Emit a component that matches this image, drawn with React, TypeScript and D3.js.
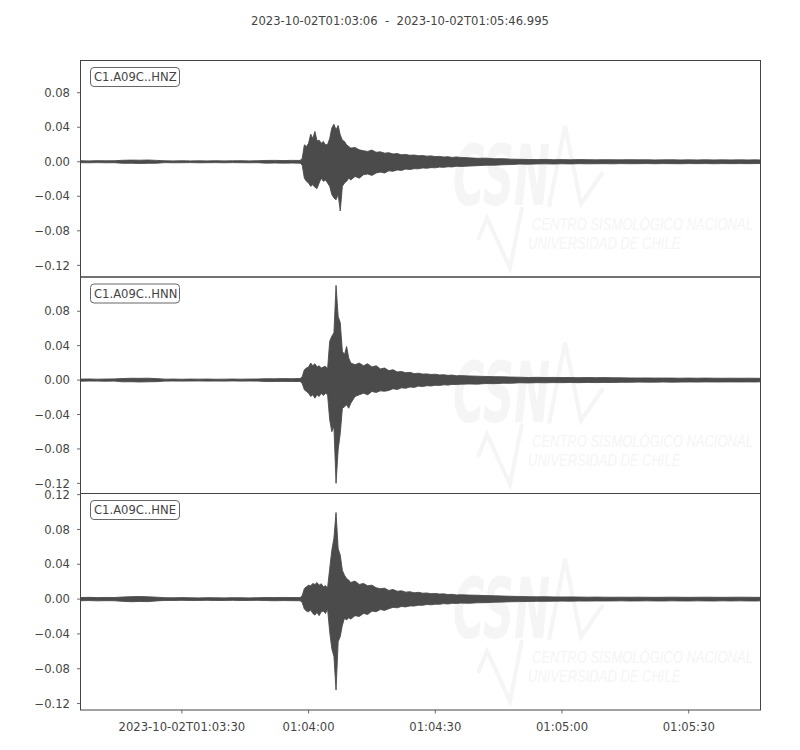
import React from "react";
import * as d3 from "d3";

// ---------- DATA (seconds after 2023-10-02T01:03:06, amplitude envelope per time bin) ----------
const START_LABEL = "2023-10-02T01:03:06";
const END_LABEL = "2023-10-02T01:05:46.995";
const DURATION_S = 160.995;

const TIME_S = [
  0, 2, 4, 6, 8, 10, 12, 14, 16, 18, 20, 22, 24, 26, 28, 30, 32, 34, 36, 38, 40, 42, 44, 46, 48, 50, 52,
  52.5, 53, 53.5, 54, 54.5, 55, 55.5, 56, 56.5, 57, 57.5, 58, 58.5, 59, 59.5, 60, 60.5, 61, 61.5, 62, 62.5, 63, 63.5, 64,
  65, 66, 67, 68, 69, 70, 71, 72, 73, 74, 75, 76, 77, 78, 79, 80, 81, 82, 83, 84, 85, 86, 87, 88, 89, 90,
  92, 94, 96, 98, 100, 102, 104, 106, 108, 110, 112, 114, 116, 118, 120, 122, 124, 126, 128, 130,
  132, 134, 136, 138, 140, 142, 144, 146, 148, 150, 152, 154, 156, 158, 160, 160.995,
];

const HNZ_MAX = [
  0.0012, 0.001, 0.0013, 0.0011, 0.0012, 0.0017, 0.0019, 0.0018, 0.002, 0.0016, 0.0011, 0.001, 0.0012, 0.001, 0.0011, 0.001, 0.0012, 0.001, 0.0011, 0.0012, 0.001, 0.0012, 0.0015, 0.0016, 0.0014, 0.0016, 0.0015,
  0.004, 0.0196, 0.0177, 0.0215, 0.032, 0.027, 0.035, 0.024, 0.025, 0.0215, 0.0235, 0.0196, 0.02, 0.027, 0.039, 0.0435, 0.037, 0.042, 0.031, 0.025, 0.0235, 0.0196, 0.0177, 0.0158,
  0.0165, 0.0138, 0.0127, 0.012, 0.0135, 0.011, 0.0115, 0.01, 0.0105, 0.009, 0.0095, 0.008, 0.0085, 0.0075, 0.0078, 0.007, 0.0072, 0.0065, 0.0068, 0.006, 0.0062, 0.0055, 0.0058, 0.005, 0.0056, 0.005,
  0.0045, 0.004, 0.0042, 0.0035, 0.0035, 0.003, 0.0028, 0.0026, 0.0025, 0.0027, 0.0024, 0.0025, 0.0023, 0.0025, 0.0024, 0.0022, 0.0024, 0.0023, 0.0022, 0.0024,
  0.0022, 0.0023, 0.0021, 0.0022, 0.0023, 0.0021, 0.0022, 0.0021, 0.0023, 0.0021, 0.0022, 0.0021, 0.0022, 0.0021, 0.0022, 0.002,
];
const HNZ_MIN = [
  -0.0011, -0.0012, -0.001, -0.0012, -0.0011, -0.0018, -0.0017, -0.002, -0.0018, -0.0017, -0.001, -0.0012, -0.0011, -0.001, -0.0012, -0.0011, -0.001, -0.0012, -0.001, -0.0011, -0.0012, -0.0011, -0.0016, -0.0014, -0.0016, -0.0015, -0.0016,
  -0.004, -0.019, -0.0227, -0.0246, -0.0285, -0.0265, -0.0296, -0.031, -0.0246, -0.019, -0.0227, -0.021, -0.0246, -0.0285, -0.038, -0.042, -0.044, -0.038, -0.057, -0.0285, -0.0246, -0.0227, -0.019, -0.021,
  -0.017, -0.019, -0.015, -0.0142, -0.0158, -0.013, -0.012, -0.013, -0.0105, -0.011, -0.0095, -0.01, -0.0085, -0.009, -0.008, -0.0082, -0.0072, -0.0075, -0.0068, -0.007, -0.0062, -0.0065, -0.0058, -0.006, -0.0052, -0.0055,
  -0.005, -0.0045, -0.004, -0.004, -0.0035, -0.0032, -0.0027, -0.0028, -0.0025, -0.0024, -0.0026, -0.0023, -0.0025, -0.0022, -0.0024, -0.0023, -0.0022, -0.0024, -0.0021, -0.0023,
  -0.0022, -0.0021, -0.0023, -0.0021, -0.0022, -0.0023, -0.0021, -0.0022, -0.0021, -0.0023, -0.0021, -0.0022, -0.0021, -0.0022, -0.0021, -0.002,
];

const HNN_MAX = [
  0.0012, 0.0013, 0.0011, 0.0012, 0.0014, 0.0018, 0.0021, 0.002, 0.0022, 0.0017, 0.0011, 0.0012, 0.001, 0.0012, 0.0011, 0.0012, 0.001, 0.0011, 0.0012, 0.0011, 0.0012, 0.0013, 0.0016, 0.0015, 0.0017, 0.0016, 0.0018,
  0.004, 0.012, 0.014, 0.0152, 0.0198, 0.0167, 0.019, 0.0152, 0.0167, 0.014, 0.0152, 0.016, 0.0128, 0.045, 0.051, 0.055, 0.11, 0.074, 0.0665, 0.0334, 0.0295, 0.039, 0.0257, 0.0198,
  0.0179, 0.0198, 0.0167, 0.019, 0.0152, 0.0167, 0.013, 0.014, 0.011, 0.012, 0.0095, 0.01, 0.0085, 0.009, 0.0075, 0.008, 0.007, 0.0072, 0.0065, 0.0068, 0.006, 0.0062, 0.0055, 0.0058, 0.005, 0.0052,
  0.0048, 0.0045, 0.0042, 0.004, 0.0038, 0.0035, 0.0033, 0.003, 0.0032, 0.003, 0.0031, 0.0029, 0.003, 0.0028, 0.003, 0.0028, 0.0029, 0.0027, 0.0026, 0.0025,
  0.0024, 0.0025, 0.0023, 0.0024, 0.0023, 0.0022, 0.0023, 0.0022, 0.0023, 0.0022, 0.0021, 0.0022, 0.0021, 0.0022, 0.0021, 0.002,
];
const HNN_MIN = [
  -0.0013, -0.0011, -0.0012, -0.0013, -0.0012, -0.002, -0.0019, -0.0022, -0.002, -0.0018, -0.0012, -0.0011, -0.0012, -0.0011, -0.001, -0.0012, -0.0011, -0.0012, -0.001, -0.0012, -0.0011, -0.0012, -0.0017, -0.0016, -0.0015, -0.0017, -0.0016,
  -0.004, -0.0113, -0.0132, -0.0152, -0.019, -0.0171, -0.021, -0.0171, -0.019, -0.0152, -0.018, -0.0152, -0.0171, -0.046, -0.06, -0.054, -0.12, -0.081, -0.062, -0.0327, -0.031, -0.0288, -0.0327, -0.0268,
  -0.019, -0.0171, -0.0152, -0.0171, -0.0132, -0.0144, -0.0125, -0.013, -0.012, -0.01, -0.011, -0.009, -0.0095, -0.008, -0.0085, -0.007, -0.0075, -0.0065, -0.0068, -0.006, -0.0062, -0.0055, -0.0058, -0.005, -0.0052, -0.0048,
  -0.0045, -0.0047, -0.004, -0.0042, -0.0036, -0.0037, -0.0031, -0.0033, -0.003, -0.0031, -0.0029, -0.003, -0.0028, -0.003, -0.0027, -0.0029, -0.0027, -0.0028, -0.0025, -0.0026,
  -0.0023, -0.0024, -0.0024, -0.0022, -0.0024, -0.0023, -0.0022, -0.0023, -0.0021, -0.0022, -0.0022, -0.0021, -0.0022, -0.0021, -0.0022, -0.002,
];

const HNE_MAX = [
  0.0018, 0.002, 0.0017, 0.0019, 0.0018, 0.0024, 0.0028, 0.003, 0.0026, 0.0022, 0.0016, 0.0015, 0.0017, 0.0015, 0.0014, 0.0016, 0.0015, 0.0014, 0.0016, 0.0015, 0.0014, 0.0016, 0.0018, 0.0017, 0.0019, 0.0018, 0.0017,
  0.004, 0.0122, 0.0142, 0.016, 0.0153, 0.018, 0.0168, 0.019, 0.016, 0.0176, 0.0142, 0.0153, 0.013, 0.035, 0.056, 0.07, 0.0995, 0.058, 0.0505, 0.033, 0.0275, 0.0237, 0.0218, 0.019,
  0.0207, 0.0168, 0.018, 0.0153, 0.016, 0.013, 0.012, 0.0125, 0.01, 0.011, 0.009, 0.0095, 0.008, 0.0085, 0.0072, 0.0078, 0.0068, 0.007, 0.0062, 0.0065, 0.0058, 0.006, 0.0052, 0.0055, 0.0048, 0.005,
  0.0046, 0.0044, 0.004, 0.0038, 0.0035, 0.0032, 0.003, 0.0028, 0.0026, 0.0027, 0.0025, 0.0024, 0.0025, 0.0023, 0.0022, 0.0023, 0.0022, 0.0021, 0.0022, 0.0021,
  0.0022, 0.0021, 0.002, 0.0021, 0.0022, 0.0021, 0.002, 0.0021, 0.0022, 0.0021, 0.002, 0.0021, 0.0022, 0.0021, 0.002, 0.002,
];
const HNE_MIN = [
  -0.0019, -0.0017, -0.002, -0.0018, -0.0019, -0.0026, -0.003, -0.0027, -0.0029, -0.0021, -0.0015, -0.0016, -0.0014, -0.0016, -0.0015, -0.0014, -0.0016, -0.0015, -0.0014, -0.0016, -0.0015, -0.0014, -0.0017, -0.0019, -0.0017, -0.0018, -0.0019,
  -0.004, -0.0115, -0.0138, -0.0145, -0.0126, -0.0165, -0.0184, -0.0153, -0.019, -0.0145, -0.0138, -0.0165, -0.0115, -0.0375, -0.057, -0.066, -0.1045, -0.049, -0.043, -0.03, -0.022, -0.024, -0.0214, -0.023,
  -0.019, -0.02, -0.0165, -0.0176, -0.0138, -0.0145, -0.012, -0.013, -0.011, -0.0095, -0.01, -0.0085, -0.009, -0.0078, -0.008, -0.007, -0.0072, -0.0062, -0.0066, -0.0058, -0.006, -0.0052, -0.0056, -0.0048, -0.005, -0.0046,
  -0.0048, -0.0042, -0.0041, -0.0036, -0.0034, -0.003, -0.0029, -0.0027, -0.0025, -0.0026, -0.0024, -0.0023, -0.0024, -0.0022, -0.0023, -0.0021, -0.0022, -0.0021, -0.002, -0.0022,
  -0.0021, -0.002, -0.0021, -0.0022, -0.002, -0.0021, -0.0022, -0.002, -0.0021, -0.0022, -0.002, -0.0021, -0.002, -0.0021, -0.0022, -0.002,
];

const CHANNELS = ["C1.A09C..HNZ", "C1.A09C..HNN", "C1.A09C..HNE"];
const Y_DOMAINS: [number, number][] = [
  [-0.1335, 0.1173],
  [-0.1318, 0.1198],
  [-0.1274, 0.1213],
];
const Y_TICKS = [
  [-0.12, -0.08, -0.04, 0, 0.04, 0.08],
  [-0.12, -0.08, -0.04, 0, 0.04, 0.08],
  [-0.12, -0.08, -0.04, 0, 0.04, 0.08, 0.12],
];
const X_TICKS_S = [24, 54, 84, 114, 144];
const X_TICK_LABELS = ["2023-10-02T01:03:30", "01:04:00", "01:04:30", "01:05:00", "01:05:30"];
const WATERMARK_LINES = ["CENTRO SISMOLÓGICO NACIONAL", "UNIVERSIDAD DE CHILE"];

// ---------- LAYOUT ----------
const W = 800;
const H = 750;
const LEFT = 80.5;
const RIGHT = 760.5;
const TOP = 60.5;
const BOTTOM = 710;
const FONT = "DejaVu Sans, sans-serif";
const FS = 11.6;
const AXIS_COLOR = "#444444";
const TEXT_COLOR = "#444444";
const WAVE_COLOR = "#4b4b4b";
const WM_COLOR = "#f5f5f5";

const fmt = (v: number) => {
  const s = Math.abs(v).toFixed(2);
  return v < -1e-9 ? "\u2212" + s : s;
};

function Watermark({ dy }: { dy: number }) {
  return (
    <g transform={`translate(0,${dy})`} pointerEvents="none">
      <text
        x={453}
        y={205}
        fontFamily={FONT}
        fontSize={84}
        fontWeight="bold"
        fontStyle="italic"
        fill={WM_COLOR}
        textLength={97}
        lengthAdjust="spacingAndGlyphs"
      >
        CSN
      </text>
      <path d="M549,207 L565,126 L581,204 L603,172" fill="none" stroke={WM_COLOR} strokeWidth={4} />
      <path d="M478,240 L487,218 L510,268 L522,207" fill="none" stroke={WM_COLOR} strokeWidth={4} />
      <g transform="translate(532,230) scale(1,1.25)">
        <text x={0} y={0} fontFamily="Liberation Sans, Arial, sans-serif" fontSize={13} fontStyle="italic" fill={WM_COLOR}>
          {WATERMARK_LINES[0]}
        </text>
      </g>
      <g transform="translate(528,249) scale(1,1.25)">
        <text x={0} y={0} fontFamily="Liberation Sans, Arial, sans-serif" fontSize={13} fontStyle="italic" fill={WM_COLOR}>
          {WATERMARK_LINES[1]}
        </text>
      </g>
    </g>
  );
}

export default function App() {
  const series = [
    [HNZ_MAX, HNZ_MIN],
    [HNN_MAX, HNN_MIN],
    [HNE_MAX, HNE_MIN],
  ];
  const panelH = (BOTTOM - TOP) / 3;
  const x = d3.scaleLinear().domain([0, DURATION_S]).range([LEFT, RIGHT]);

  return (
    <svg
      width={W}
      height={H}
      viewBox={`0 0 ${W} ${H}`}
      style={{ position: "absolute", left: 0, top: 0, background: "#ffffff" }}
    >
      <rect x={0} y={0} width={W} height={H} fill="#ffffff" />
      <text
        x={400}
        y={24.5}
        textAnchor="middle"
        fontFamily={FONT}
        fontSize={FS}
        fill={TEXT_COLOR}
        style={{ whiteSpace: "pre" }}
      >
        {`${START_LABEL}  -  ${END_LABEL}`}
      </text>
      {series.map(([hi, lo], i) => {
        const top = TOP + i * panelH;
        const bottom = top + panelH;
        const y = d3.scaleLinear().domain(Y_DOMAINS[i]).range([bottom, top]);
        const n = Math.min(TIME_S.length, hi.length, lo.length);
        const idx = d3.range(n);
        const area = d3
          .area<number>()
          .x((k) => x(TIME_S[k]))
          .y0((k) => y(lo[k]))
          .y1((k) => y(hi[k]))
          .curve(d3.curveLinear);
        const clipId = `clip-${i}`;
        return (
          <g key={i}>
            <defs>
              <clipPath id={clipId}>
                <rect x={LEFT} y={top} width={RIGHT - LEFT} height={panelH} />
              </clipPath>
            </defs>
            <g clipPath={`url(#${clipId})`}>
              <Watermark dy={top - TOP} />
              <path
                d={area(idx) || ""}
                fill={WAVE_COLOR}
                stroke={WAVE_COLOR}
                strokeWidth={0.9}
                strokeLinejoin="miter"
              />
            </g>
            <rect
              x={LEFT}
              y={top}
              width={RIGHT - LEFT}
              height={panelH}
              fill="none"
              stroke={AXIS_COLOR}
              strokeWidth={1}
            />
            {Y_TICKS[i].map((t) => (
              <g key={t} transform={`translate(0,${y(t)})`}>
                <line x1={LEFT - 3.5} x2={LEFT} y1={0} y2={0} stroke={AXIS_COLOR} strokeWidth={0.8} />
                <text
                  x={LEFT - 10.5}
                  y={0}
                  dy="0.36em"
                  textAnchor="end"
                  fontFamily={FONT}
                  fontSize={FS}
                  fill={TEXT_COLOR}
                >
                  {fmt(t)}
                </text>
              </g>
            ))}
            <g>
              <rect
                x={90.5}
                y={top + 7}
                width={89}
                height={19}
                rx={3.5}
                ry={3.5}
                fill="#ffffff"
                stroke="#666666"
                strokeWidth={1}
              />
              <text
                x={94}
                y={top + 16.6}
                dy="0.36em"
                fontFamily={FONT}
                fontSize={FS}
                fill={TEXT_COLOR}
              >
                {CHANNELS[i]}
              </text>
            </g>
          </g>
        );
      })}
      {X_TICKS_S.map((t, k) => (
        <g key={t} transform={`translate(${x(t)},${BOTTOM})`}>
          <line x1={0} x2={0} y1={0} y2={3.5} stroke={AXIS_COLOR} strokeWidth={0.8} />
          <text
            x={0}
            y={20.5}
            textAnchor="middle"
            fontFamily={FONT}
            fontSize={FS}
            fill={TEXT_COLOR}
          >
            {X_TICK_LABELS[k]}
          </text>
        </g>
      ))}
    </svg>
  );
}
